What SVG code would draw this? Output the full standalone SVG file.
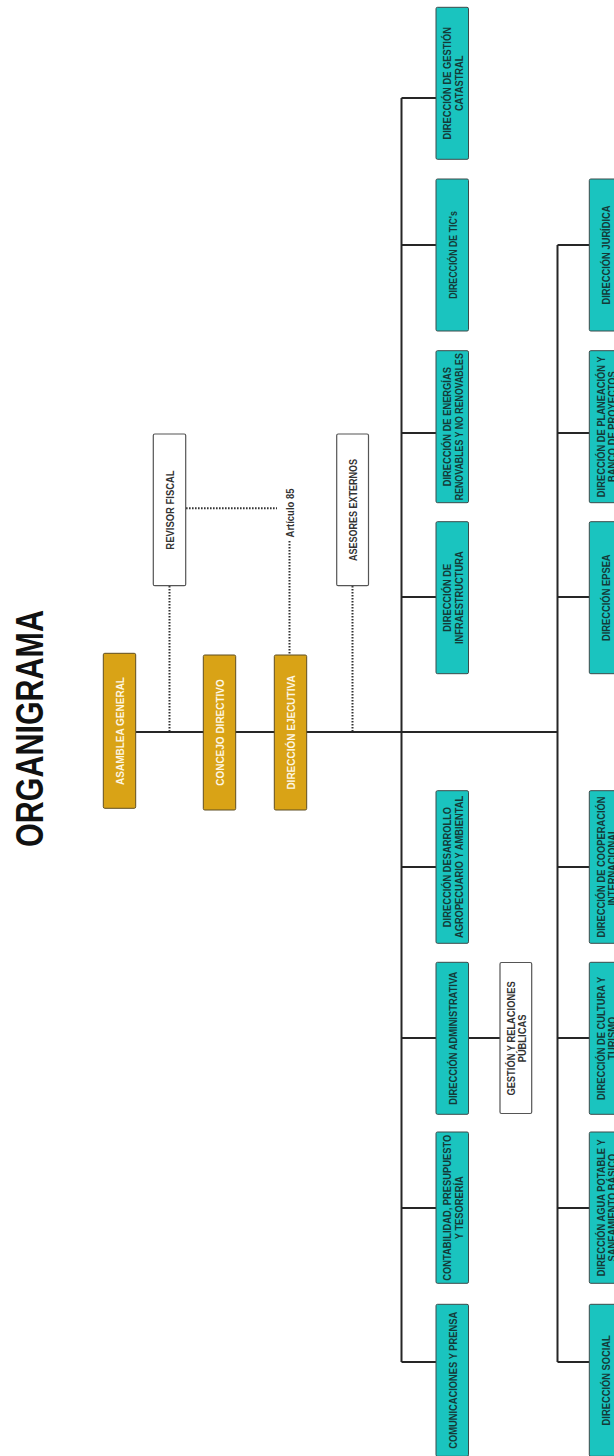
<svg xmlns="http://www.w3.org/2000/svg" width="614" height="1456" viewBox="0 0 614 1456">
<style>
.teal rect{fill:#1ac4bf;stroke:#3c4a4a;stroke-width:1}
.gold rect{fill:#d9a316;stroke:#5f4e22;stroke-width:1}
.white rect{fill:#fff;stroke:#555;stroke-width:1.2}
text{font-family:"Liberation Sans",Arial,sans-serif;font-weight:bold;text-anchor:middle}
.tt{font-size:11px;fill:#143a38}
.tg{font-size:11.5px;fill:#fdf6e3}
.tw{font-size:11px;fill:#333}
.title{font-size:38px;fill:#111}
.ln{stroke:#262626;stroke-width:2;fill:none}
.dash{stroke:#333;stroke-width:2;stroke-dasharray:1.6 1.4;fill:none}
</style>
<rect width="614" height="1456" fill="#fff"/>

<g id="title">
<text class="title" transform="translate(43,728.5) rotate(-90)" textLength="237" lengthAdjust="spacingAndGlyphs">ORGANIGRAMA</text>
</g>

<g id="connectors">
<path class="ln" d="M136 732H557.5"/>
<path class="ln" d="M401.5 98V1362"/>
<path class="ln" d="M401.5 98H436M401.5 245H436M401.5 433H436M401.5 597H436M401.5 867H436M401.5 1038H436M401.5 1208H436M401.5 1362H436"/>
<path class="ln" d="M557.5 245V1362"/>
<path class="ln" d="M557.5 245H589.3M557.5 433H589.3M557.5 597H589.3M557.5 867H589.3M557.5 1038H589.3M557.5 1208H589.3M557.5 1362H589.3"/>
<path class="ln" d="M468.5 1038H500"/>
<path class="dash" d="M169.5 586V731"/>
<path class="dash" d="M186 508.3H277"/>
<path class="dash" d="M289.5 541V655"/>
<path class="dash" d="M352.5 586V731"/>
</g>

<g id="asamblea" class="gold">
<rect x="103.3" y="653.3" width="32.4" height="155" rx="1.5"/>
<text class="tg" transform="translate(119.5,731) rotate(-90) scale(0.87,1)" y="4.1">ASAMBLEA GENERAL</text>
</g>
<g id="concejo" class="gold">
<rect x="203.3" y="655" width="32.4" height="155" rx="1.5"/>
<text class="tg" transform="translate(219.5,732.5) rotate(-90) scale(0.87,1)" y="4.1">CONCEJO DIRECTIVO</text>
</g>
<g id="ejecutiva" class="gold">
<rect x="274.3" y="655" width="32.4" height="155" rx="1.5"/>
<text class="tg" transform="translate(290.5,732.5) rotate(-90) scale(0.87,1)" y="4.1">DIRECCIÓN EJECUTIVA</text>
</g>

<g id="revisor" class="white">
<rect x="153.3" y="434" width="32.4" height="151.7" rx="1.5"/>
<text class="tw" transform="translate(169.5,510) rotate(-90) scale(0.86,1)" y="4">REVISOR FISCAL</text>
</g>
<g id="articulo">
<text class="tw" transform="translate(290,513) rotate(-90) scale(0.86,1)" y="4">Artículo 85</text>
</g>
<g id="asesores" class="white">
<rect x="336.7" y="434" width="31.8" height="151.7" rx="1.5"/>
<text class="tw" transform="translate(352.6,510) rotate(-90) scale(0.82,1)" y="4">ASESORES EXTERNOS</text>
</g>

<g id="catastral" class="teal">
<rect x="436" y="7.3" width="32.5" height="152" rx="1.5"/>
<text class="tt" transform="translate(452.25,83.3) rotate(-90) scale(0.85,1)"><tspan x="0" y="-0.9">DIRECCIÓN DE GESTIÓN</tspan><tspan x="0" y="10.6">CATASTRAL</tspan></text>
</g>
<g id="tics" class="teal">
<rect x="436" y="179" width="32.5" height="152" rx="1.5"/>
<text class="tt" transform="translate(452.25,255) rotate(-90) scale(0.8,1)" y="4.5">DIRECCIÓN DE TIC's</text>
</g>
<g id="energias" class="teal">
<rect x="436" y="350.7" width="32.5" height="152" rx="1.5"/>
<text class="tt" transform="translate(452.25,426.7) rotate(-90) scale(0.85,1)"><tspan x="0" y="-0.9">DIRECCIÓN DE ENERGÍAS</tspan><tspan x="0" y="10.6" textLength="173" lengthAdjust="spacingAndGlyphs">RENOVABLES Y NO RENOVABLES</tspan></text>
</g>
<g id="infraestructura" class="teal">
<rect x="436" y="521.7" width="32.5" height="152" rx="1.5"/>
<text class="tt" transform="translate(452.25,597.7) rotate(-90) scale(0.85,1)"><tspan x="0" y="-0.9">DIRECCIÓN DE</tspan><tspan x="0" y="10.6">INFRAESTRUCTURA</tspan></text>
</g>
<g id="agropecuario" class="teal">
<rect x="436" y="790.7" width="32.5" height="152.6" rx="1.5"/>
<text class="tt" transform="translate(452.25,867) rotate(-90) scale(0.85,1)"><tspan x="0" y="-0.9">DIRECCIÓN DESARROLLO</tspan><tspan x="0" y="10.6">AGROPECUARIO Y AMBIENTAL</tspan></text>
</g>
<g id="administrativa" class="teal">
<rect x="436" y="962.3" width="32.5" height="152" rx="1.5"/>
<text class="tt" transform="translate(452.25,1038.3) rotate(-90) scale(0.85,1)" y="4.5">DIRECCIÓN ADMINISTRATIVA</text>
</g>
<g id="contabilidad" class="teal">
<rect x="436" y="1132" width="32.5" height="151.3" rx="1.5"/>
<text class="tt" transform="translate(452.25,1207.7) rotate(-90) scale(0.85,1)"><tspan x="0" y="-0.9">CONTABILIDAD, PRESUPUESTO</tspan><tspan x="0" y="10.6">Y TESORERÍA</tspan></text>
</g>
<g id="comunicaciones" class="teal">
<rect x="436" y="1304.3" width="32.5" height="152" rx="1.5"/>
<text class="tt" transform="translate(452.25,1380.3) rotate(-90) scale(0.85,1)" y="4.5">COMUNICACIONES Y PRENSA</text>
</g>

<g id="relaciones" class="white">
<rect x="500" y="962.5" width="31.7" height="151" rx="1.5"/>
<text class="tw" transform="translate(515.9,1038.5) rotate(-90) scale(0.85,1)"><tspan x="0" y="-0.9">GESTIÓN Y RELACIONES</tspan><tspan x="0" y="10.6">PÚBLICAS</tspan></text>
</g>

<g id="juridica" class="teal">
<rect x="589.3" y="179" width="33" height="152" rx="1.5"/>
<text class="tt" transform="translate(605.8,255) rotate(-90) scale(0.85,1)" y="4.5">DIRECCIÓN JURÍDICA</text>
</g>
<g id="planeacion" class="teal">
<rect x="589.3" y="350.7" width="33" height="152" rx="1.5"/>
<text class="tt" transform="translate(605.8,426.7) rotate(-90) scale(0.85,1)"><tspan x="0" y="-0.9">DIRECCIÓN DE PLANEACIÓN Y</tspan><tspan x="0" y="10.6">BANCO DE PROYECTOS</tspan></text>
</g>
<g id="epsea" class="teal">
<rect x="589.3" y="521.7" width="33" height="152" rx="1.5"/>
<text class="tt" transform="translate(605.8,597.7) rotate(-90) scale(0.85,1)" y="4.5">DIRECCIÓN EPSEA</text>
</g>
<g id="cooperacion" class="teal">
<rect x="589.3" y="790.7" width="33" height="152.6" rx="1.5"/>
<text class="tt" transform="translate(605.8,867) rotate(-90) scale(0.85,1)"><tspan x="0" y="-0.9">DIRECCIÓN DE COOPERACIÓN</tspan><tspan x="0" y="10.6">INTERNACIONAL</tspan></text>
</g>
<g id="cultura" class="teal">
<rect x="589.3" y="962.3" width="33" height="152" rx="1.5"/>
<text class="tt" transform="translate(605.8,1038.3) rotate(-90) scale(0.85,1)"><tspan x="0" y="-0.9">DIRECCIÓN DE CULTURA Y</tspan><tspan x="0" y="10.6">TURISMO</tspan></text>
</g>
<g id="agua" class="teal">
<rect x="589.3" y="1132" width="33" height="151.3" rx="1.5"/>
<text class="tt" transform="translate(605.8,1207.7) rotate(-90) scale(0.85,1)"><tspan x="0" y="-0.9">DIRECCIÓN AGUA POTABLE Y</tspan><tspan x="0" y="10.6">SANEAMIENTO BÁSICO</tspan></text>
</g>
<g id="social" class="teal">
<rect x="589.3" y="1304.3" width="33" height="152" rx="1.5"/>
<text class="tt" transform="translate(605.8,1380.3) rotate(-90) scale(0.85,1)" y="4.5">DIRECCIÓN SOCIAL</text>
</g>
</svg>
